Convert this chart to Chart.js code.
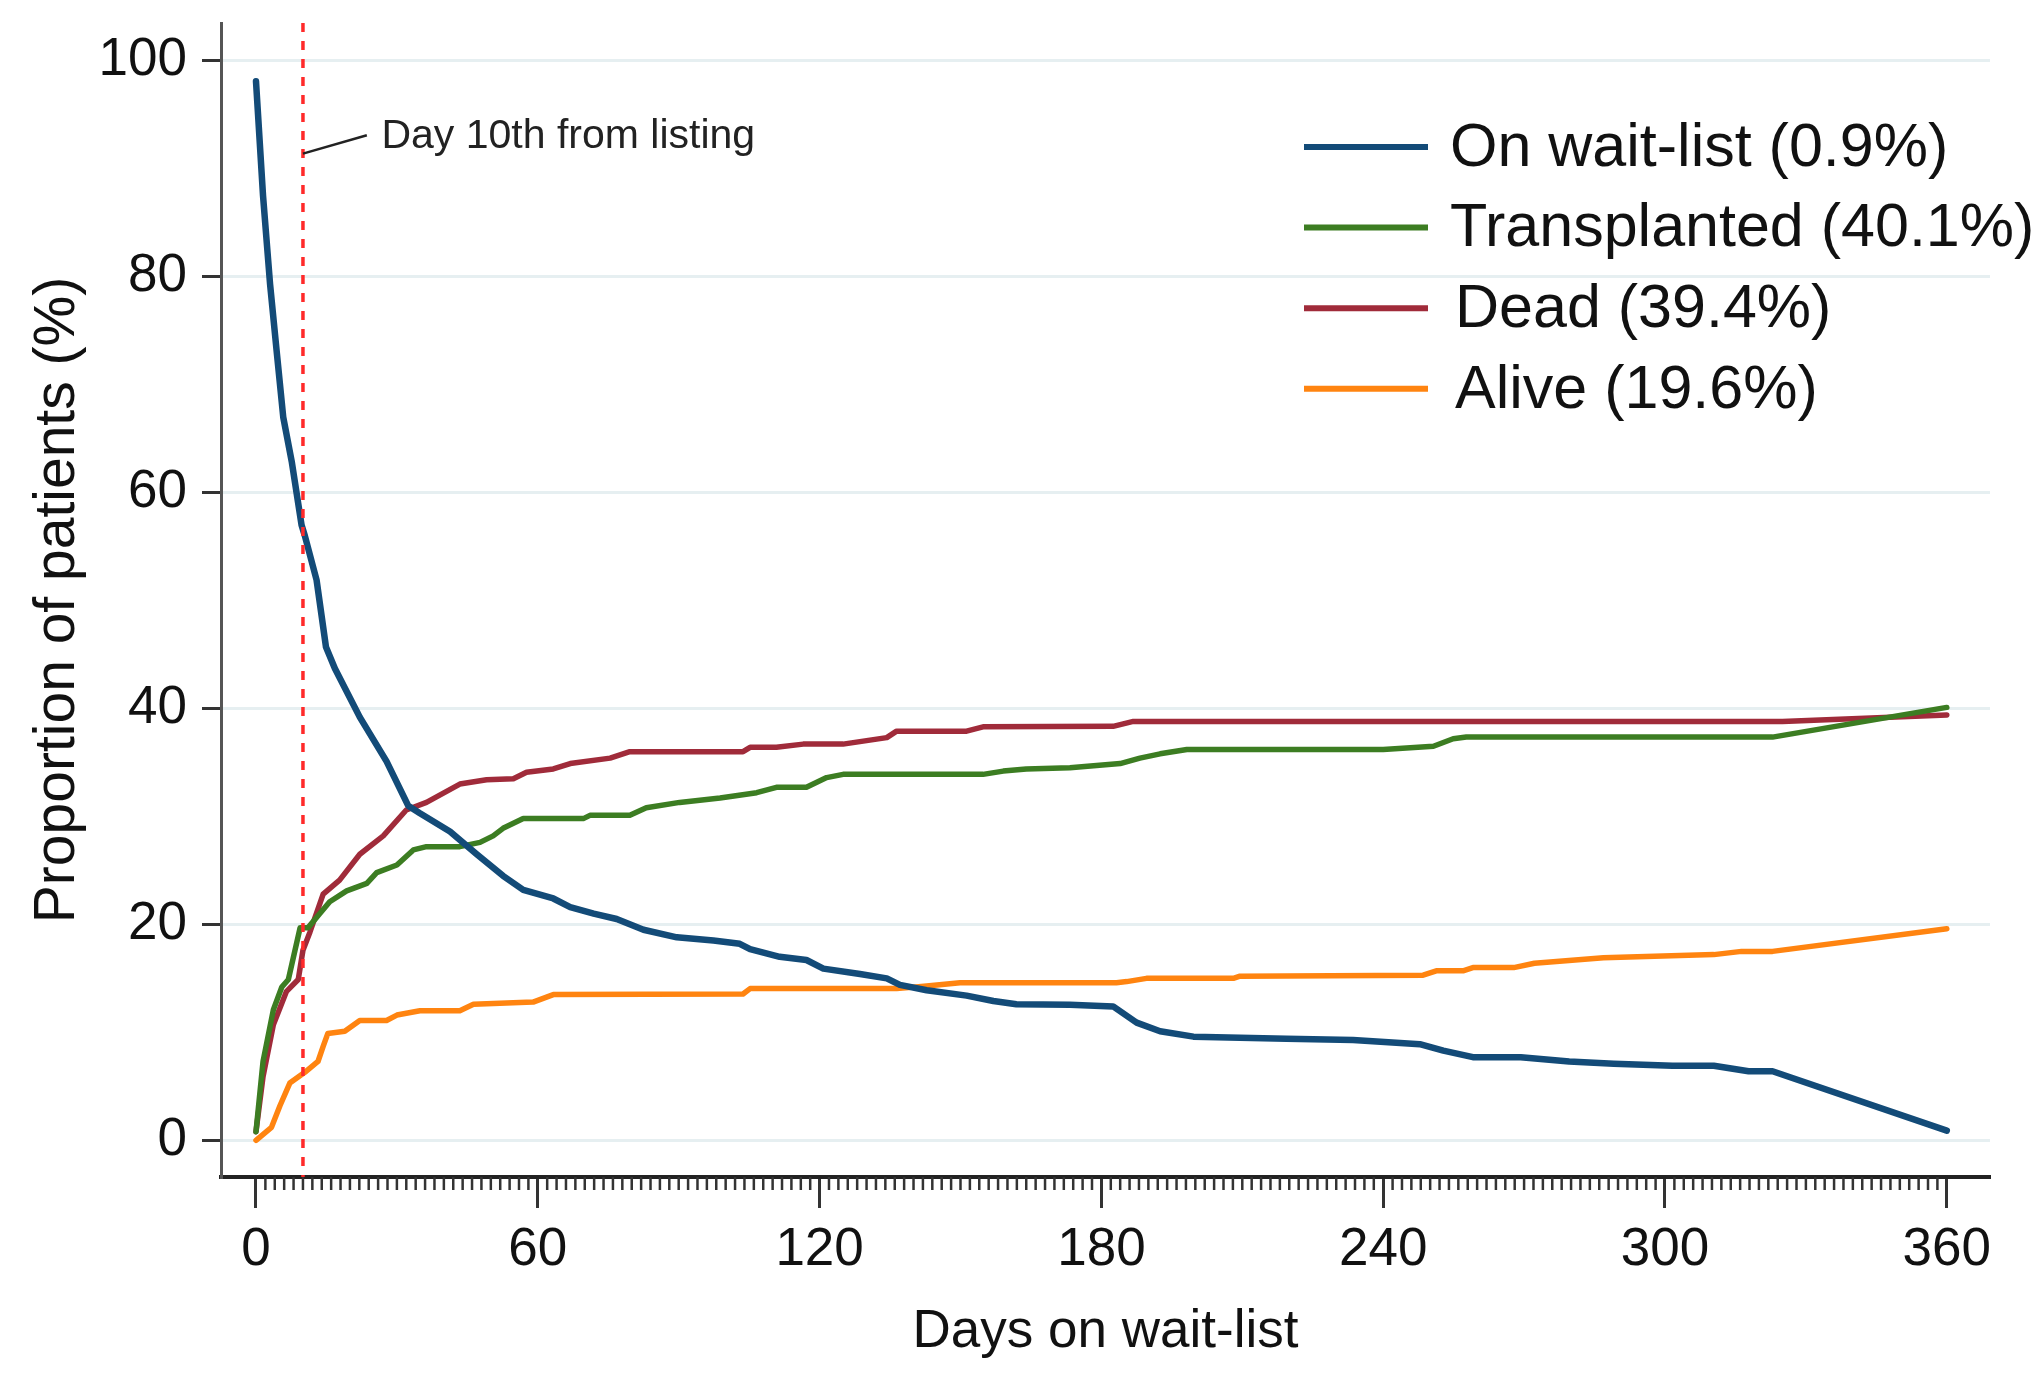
<!DOCTYPE html>
<html>
<head>
<meta charset="utf-8">
<script src="https://cdn.jsdelivr.net/npm/chart.js@4.4.1/dist/chart.umd.min.js"></script>
<style>
  html, body { margin: 0; padding: 0; background: #fff; }
  #wrap { width: 2039px; height: 1378px; position: relative; }
</style>
</head>
<body>
<div id="wrap"><canvas id="grafico"></canvas></div>
<script>
const waitDays = [0, 1.5, 3, 4.4, 5.8, 7.6, 9.7, 10.4, 12.9, 14.9, 16.8, 22.1, 27.8, 32.4, 34.9, 41.3, 47, 52.6, 56.9, 63.3, 66.9, 71.9, 76.8, 82.5, 89.6, 97.4, 103, 105.2, 111.5, 117.2, 120.8, 128.6, 134.3, 137.1, 142.8, 151.3, 157, 161.9, 173.3, 182.5, 187.5, 192.5, 199.6, 219.4, 233.6, 247.8, 252.8, 259.1, 269.3, 279.6, 289.1, 301.6, 310.4, 317.8, 322.9, 360];
const waitPct = [98.1, 87.5, 79.3, 73.1, 67, 62.9, 57, 56, 51.9, 45.7, 43.7, 39.2, 35.1, 31, 30.3, 28.6, 26.5, 24.5, 23.2, 22.4, 21.6, 21.0, 20.5, 19.5, 18.8, 18.5, 18.2, 17.7, 17.0, 16.7, 15.9, 15.4, 15.0, 14.4, 13.9, 13.4, 12.9, 12.6, 12.55, 12.4, 10.9, 10.1, 9.6, 9.4, 9.3, 8.9, 8.3, 7.7, 7.7, 7.3, 7.1, 6.9, 6.9, 6.4, 6.4, 0.9];

const transDays = [0, 1.5, 3.7, 5.5, 6.9, 9.4, 11.1, 13.6, 15.7, 19.3, 23.6, 25.7, 30, 33.5, 36.3, 43.4, 47.7, 50.5, 52.6, 56.9, 69.7, 71.1, 79.6, 83.1, 90.2, 98.8, 106.6, 110.8, 117.2, 121.5, 125, 154.8, 159.1, 164, 173.3, 184, 188.2, 192.5, 198.2, 240, 250.7, 254.9, 257.7, 322.9, 360];
const transPct = [0.8, 7.3, 12.1, 14.2, 14.9, 19.7, 19.7, 21.0, 22.1, 23.1, 23.8, 24.8, 25.5, 26.9, 27.2, 27.2, 27.6, 28.2, 28.9, 29.8, 29.8, 30.1, 30.1, 30.8, 31.3, 31.7, 32.2, 32.7, 32.7, 33.6, 33.9, 33.9, 34.2, 34.4, 34.5, 34.9, 35.4, 35.8, 36.2, 36.2, 36.5, 37.2, 37.35, 37.35, 40.1];

const deadDays = [0, 1.5, 3.7, 6.5, 9, 10, 11.5, 14.3, 17.8, 22.1, 27.1, 32, 36.3, 43.4, 49.1, 54.8, 57.6, 63.3, 66.9, 75.4, 79.6, 103.7, 105.2, 110.8, 116.5, 125, 134.3, 136.4, 151.3, 154.8, 182.5, 186.8, 325, 360];
const deadPct = [0.8, 5.9, 10.7, 13.8, 14.9, 17.6, 19.3, 22.8, 24.1, 26.5, 28.2, 30.6, 31.3, 33, 33.4, 33.5, 34.1, 34.4, 34.9, 35.4, 36.0, 36.0, 36.4, 36.4, 36.7, 36.7, 37.3, 37.9, 37.9, 38.3, 38.35, 38.8, 38.8, 39.4];

const aliveDays = [0, 3.3, 5.1, 7.2, 10.4, 13.2, 14.3, 15.3, 18.9, 22.1, 27.8, 30, 34.9, 43.4, 46.3, 59, 63.3, 103.7, 105.2, 136.4, 142.8, 149.9, 183.2, 185.4, 189.6, 208.1, 209.5, 248.5, 251.3, 257, 259.1, 267.8, 272.2, 286.9, 310.4, 316.3, 322.9, 360];
const alivePct = [0, 1.2, 3.2, 5.3, 6.3, 7.3, 8.7, 9.9, 10.1, 11.1, 11.1, 11.6, 12, 12, 12.6, 12.8, 13.5, 13.55, 14.05, 14.05, 14.3, 14.6, 14.6, 14.7, 15.0, 15.0, 15.2, 15.3, 15.7, 15.7, 16.0, 16.0, 16.4, 16.9, 17.2, 17.5, 17.5, 19.6];

const seriesLabels = ["On wait-list (0.9%)", "Transplanted (40.1%)", "Dead (39.4%)", "Alive (19.6%)"];
const xTicks = [0, 60, 120, 180, 240, 300, 360];
const yTicks = [0, 20, 40, 60, 80, 100];
const listingDay = 10;
const noteText = "Day 10th from listing";

const colors = ["#134b78", "#3c7d22", "#a02b3a", "#ff8410"];
const font = "'Liberation Sans', Arial, sans-serif";

const toPoints = (days, pct) => days.map((d, i) => ({ x: d, y: pct[i] }));

const extras = {
  id: "extras",
  afterDatasetsDraw(chart) {
    const { ctx, chartArea: a, scales: { x, y } } = chart;
    ctx.save();
    // vertical dotted line at day 10
    const px = x.getPixelForValue(listingDay);
    ctx.strokeStyle = "#ff2a2a";
    ctx.lineWidth = 3.5;
    ctx.setLineDash([9, 9]);
    ctx.beginPath();
    ctx.moveTo(px, a.top);
    ctx.lineTo(px, a.bottom);
    ctx.stroke();
    ctx.setLineDash([]);

    // note + connector
    ctx.strokeStyle = "#222";
    ctx.lineWidth = 2.5;
    ctx.beginPath();
    ctx.moveTo(px, y.getPixelForValue(91.4));
    ctx.lineTo(x.getPixelForValue(23.6), y.getPixelForValue(93.1));
    ctx.stroke();
    ctx.fillStyle = "#222";
    ctx.font = "41px " + font;
    ctx.textAlign = "left";
    ctx.textBaseline = "middle";
    ctx.fillText(noteText, x.getPixelForValue(26.7), y.getPixelForValue(93.0));

    // minor ticks every 2 days
    ctx.strokeStyle = "#333";
    ctx.lineWidth = 2.5;
    for (let d = 0; d <= 360; d += 2) {
      if (d % 60 === 0) continue;
      const tx = x.getPixelForValue(d);
      ctx.beginPath();
      ctx.moveTo(tx, a.bottom);
      ctx.lineTo(tx, a.bottom + 13);
      ctx.stroke();
    }

    // legend
    ctx.font = "61px " + font;
    ctx.fillStyle = "#111";
    chart.data.datasets.forEach((ds, i) => {
      const ly = 147 + i * 80.6;
      ctx.strokeStyle = ds.borderColor;
      ctx.lineWidth = 6;
      ctx.beginPath();
      ctx.moveTo(1304, ly);
      ctx.lineTo(1428, ly);
      ctx.stroke();
      ctx.fillText(ds.label, i < 2 ? 1450 : 1455, ly + 2);
    });
    ctx.restore();
  },
};

new Chart(document.getElementById("grafico"), {
  type: "line",
  data: {
    datasets: [
      { label: seriesLabels[0], data: toPoints(waitDays, waitPct), borderColor: colors[0], borderWidth: 6.5 },
      { label: seriesLabels[1], data: toPoints(transDays, transPct), borderColor: colors[1], borderWidth: 5.5 },
      { label: seriesLabels[2], data: toPoints(deadDays, deadPct), borderColor: colors[2], borderWidth: 5.5 },
      { label: seriesLabels[3], data: toPoints(aliveDays, alivePct), borderColor: colors[3], borderWidth: 5.5 },
    ],
  },
  options: {
    responsive: true,
    maintainAspectRatio: false,
    animation: false,
    layout: { padding: { top: 23, right: 49, bottom: 0, left: 0 } },
    elements: {
      point: { radius: 0 },
      line: { tension: 0, borderJoinStyle: "round", borderCapStyle: "round", fill: false },
    },
    plugins: { legend: { display: false }, tooltip: { enabled: false } },
    scales: {
      x: {
        type: "linear",
        min: -7.45,
        max: 369.2,
        afterBuildTicks: (s) => { s.ticks = xTicks.map((v) => ({ value: v })); },
        afterFit: (s) => { s.height = 201; s.paddingLeft = 0; s.paddingRight = 0; },
        border: { display: true, color: "#222", width: 4 },
        grid: { drawOnChartArea: false, drawTicks: true, tickLength: 31, tickColor: "#333", tickWidth: 3 },
        ticks: { padding: 11, color: "#111", font: { family: font, size: 53 }, maxRotation: 0 },
        title: { display: true, text: "Days on wait-list", color: "#111", font: { family: font, size: 53 }, padding: { top: 0, bottom: 14 } },
      },
      y: {
        min: -3.4,
        max: 103.5,
        afterBuildTicks: (s) => { s.ticks = yTicks.map((v) => ({ value: v })); },
        afterFit: (s) => { s.width = 221; s.paddingTop = 0; s.paddingBottom = 0; },
        border: { display: true, color: "#555", width: 3 },
        grid: { color: "#e6eff1", lineWidth: 3, drawTicks: true, tickLength: 19, tickColor: "#333", tickWidth: 3 },
        ticks: { padding: 15, color: "#111", font: { family: font, size: 53 } },
        title: { display: true, text: "Proportion of patients (%)", color: "#111", font: { family: font, size: 57 }, padding: { top: 24, bottom: 0 } },
      },
    },
  },
  plugins: [extras],
});
</script>
</body>
</html>
